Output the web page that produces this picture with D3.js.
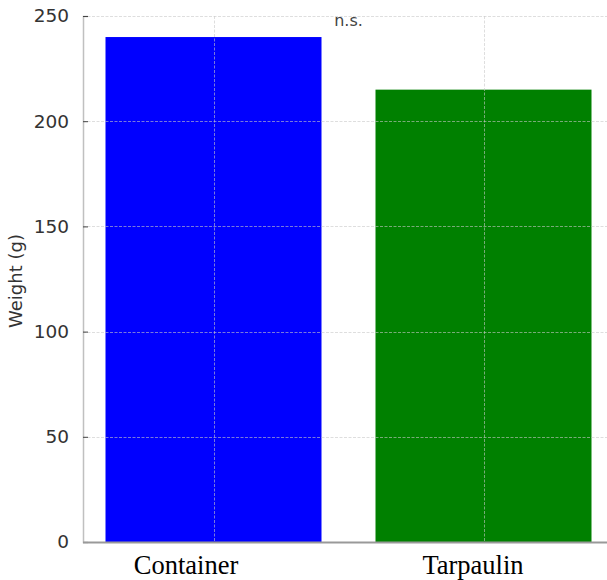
<!DOCTYPE html>
<html>
<head>
<meta charset="utf-8">
<script src="https://cdn.jsdelivr.net/npm/d3@7"></script>
<style>
  html, body { margin: 0; padding: 0; background: #fff; }
  svg { display: block; }
</style>
</head>
<body>
<svg id="chart" width="607" height="580"></svg>
<script>
const categories = ["Container", "Tarpaulin"];
const weights = [240, 215];
const barColors = ["#0000ff", "#008000"];
const yTicks = [0, 50, 100, 150, 200, 250];
const yLabel = "Weight (g)";
const annotation = "n.s.";

(function () {
const W = 607, H = 580;
const mLeft = 83, mBottom = 542, mTop = 16;
const labelShift = [-28, -11];
const svg = d3.select("#chart");

const y = d3.scaleLinear().domain([0, 250]).range([mBottom, mTop]);
const x = d3.scalePoint().domain(categories).range([213.5, 483.5]);
const barW = 0.8 * x.step();

// bars
svg.append("g").selectAll("rect").data(categories).join("rect")
  .attr("x", d => x(d) - barW / 2)
  .attr("width", barW)
  .attr("y", (d, i) => y(weights[i]))
  .attr("height", (d, i) => y(0) - y(weights[i]))
  .attr("fill", (d, i) => barColors[i]);

// grid
const grid = svg.append("g")
  .attr("stroke", "#c8c8c8").attr("stroke-opacity", 0.6)
  .attr("stroke-width", 1).attr("stroke-dasharray", "3,1.5");
grid.selectAll("line.h").data(yTicks.filter(t => t > 0)).join("line")
  .attr("class", "h")
  .attr("x1", mLeft).attr("x2", W)
  .attr("y1", d => Math.round(y(d)) + 0.5).attr("y2", d => Math.round(y(d)) + 0.5);
grid.selectAll("line.v").data(categories).join("line")
  .attr("class", "v")
  .attr("x1", d => Math.round(x(d)) + 0.5).attr("x2", d => Math.round(x(d)) + 0.5)
  .attr("y1", mTop).attr("y2", mBottom);

// y axis
const yAxis = d3.axisLeft(y).tickValues(yTicks).tickSize(-5).tickPadding(14);
const yg = svg.append("g").attr("transform", `translate(${mLeft},0)`).call(yAxis);
yg.select(".domain").attr("stroke", "#c0c0c0").attr("stroke-width", 1.5);
yg.selectAll(".tick line").attr("stroke", "#444");
yg.selectAll(".tick text")
  .attr("font-family", "DejaVu Sans, sans-serif")
  .attr("font-size", 18.5).attr("fill", "#333");

// x axis
const xAxis = d3.axisBottom(x).tickSize(0).tickPadding(0);
const xg = svg.append("g").attr("transform", `translate(0,${mBottom})`).call(xAxis);
xg.select(".domain").remove();
xg.append("line").attr("x1", mLeft).attr("x2", W).attr("y1", 0.5).attr("y2", 0.5)
  .attr("stroke", "#999").attr("stroke-width", 2);
xg.selectAll(".tick line").remove();
xg.selectAll(".tick text")
  .attr("dy", null)
  .attr("y", 32)
  .attr("dx", (d, i) => labelShift[i])
  .attr("font-family", "Liberation Serif, Times New Roman, serif")
  .attr("font-size", 26.5).attr("fill", "#000");

// y label
svg.append("text")
  .attr("transform", `translate(22,${(mTop + mBottom) / 2 + 2}) rotate(-90)`)
  .attr("text-anchor", "middle")
  .attr("font-family", "DejaVu Sans, sans-serif")
  .attr("font-size", 18).attr("fill", "#333")
  .text(yLabel);

// annotation
svg.append("text")
  .attr("x", (x(categories[0]) + x(categories[1])) / 2)
  .attr("y", 26)
  .attr("text-anchor", "middle")
  .attr("font-family", "DejaVu Sans, sans-serif")
  .attr("font-size", 16).attr("fill", "#444")
  .text(annotation);
})();
</script>
</body>
</html>
